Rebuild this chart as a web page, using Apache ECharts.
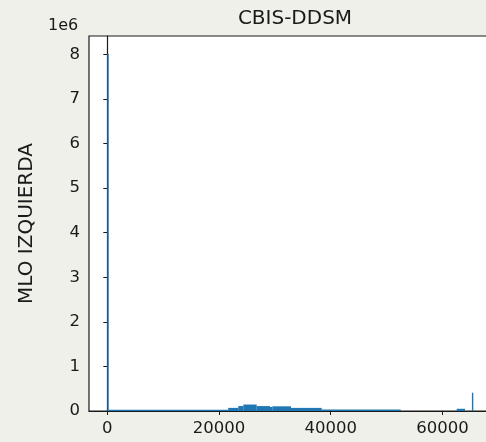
<!DOCTYPE html>
<html>
<head>
<meta charset="utf-8">
<script src="https://cdn.jsdelivr.net/npm/echarts@6/dist/echarts.min.js"></script>
<style>
  html, body { margin: 0; padding: 0; background: #eff0ea; overflow: hidden; }
  /* a bit wider than the window: the right spine falls just off the picture */
  #chart { width: 492px; height: 442px; }
</style>
</head>
<body>
<div id="chart"></div>
<script>
// histogram bins (pixel value ranges and counts)
var binStart = [0, 256, 21650, 23450, 24350, 26750, 29130, 29540, 32890, 38390, 62560, 65280];
var binEnd   = [256, 21650, 23450, 24350, 26750, 29130, 29540, 32890, 38390, 52530, 64050, 65535];
var binCount = [8010000, 30000, 70000, 110000, 145000, 110000, 90000, 105000, 70000, 35000, 50000, 410000];

var xTicks = [0, 20000, 40000, 60000];
var yTicks = [0, 1e6, 2e6, 3e6, 4e6, 5e6, 6e6, 7e6, 8e6];

var seriesData = binStart.map(function (s, i) { return [s, binEnd[i], binCount[i]]; });

var chart = echarts.init(document.getElementById('chart'));
var ink = '#1a1a1a';
var tickFont = { fontFamily: 'DejaVu Sans', fontSize: 16.5, color: ink };

var option = {
  backgroundColor: '#eff0ea',
  animation: false,
  title: {
    text: 'CBIS-DDSM',
    left: 290,
    textAlign: 'center',
    top: 4,
    textStyle: { fontFamily: 'DejaVu Sans', fontSize: 20, fontWeight: 'normal', color: ink }
  },
  grid: {
    left: 89, top: 36, right: 0, bottom: 31,
    show: true, backgroundColor: '#ffffff', borderColor: ink, borderWidth: 1.2
  },
  xAxis: {
    type: 'value',
    min: -3277,
    max: 68880,
    axisLine: { show: true, onZero: false, lineStyle: { color: ink, width: 1.2 } },
    axisTick: { show: true, length: 4, customValues: xTicks, lineStyle: { color: ink } },
    axisLabel: Object.assign({
      customValues: xTicks,
      margin: 9,
      formatter: function (v) { return String(v); }
    }, tickFont),
    splitLine: { show: false }
  },
  yAxis: {
    type: 'value',
    min: 0,
    max: 8410000,
    name: 'MLO IZQUIERDA',
    nameLocation: 'middle',
    nameGap: 52,
    nameRotate: 90,
    nameTextStyle: { fontFamily: 'DejaVu Sans', fontSize: 20, color: ink },
    axisLine: { show: true, lineStyle: { color: ink, width: 1.2 } },
    axisTick: { show: true, length: 4, customValues: yTicks, lineStyle: { color: ink } },
    axisLabel: Object.assign({
      customValues: yTicks,
      margin: 9,
      formatter: function (v) { return String(Math.round(v / 1e6)); }
    }, tickFont),
    splitLine: { show: false }
  },
  graphic: [{
    type: 'text',
    left: 48,
    top: 18,
    style: { text: '1e6', font: '16px "DejaVu Sans"', fill: ink }
  }],
  series: [{
    type: 'custom',
    data: seriesData,
    encode: { x: [0, 1], y: 2 },
    renderItem: function (params, api) {
      var p0 = api.coord([api.value(0), api.value(2)]);
      var p1 = api.coord([api.value(1), 0]);
      var w = Math.max(p1[0] - p0[0], 1.2);
      return {
        type: 'rect',
        shape: { x: p0[0], y: p0[1], width: w, height: p1[1] - p0[1] },
        style: { fill: '#1f77b4' }
      };
    }
  }]
};
chart.setOption(option);
</script>
</body>
</html>
